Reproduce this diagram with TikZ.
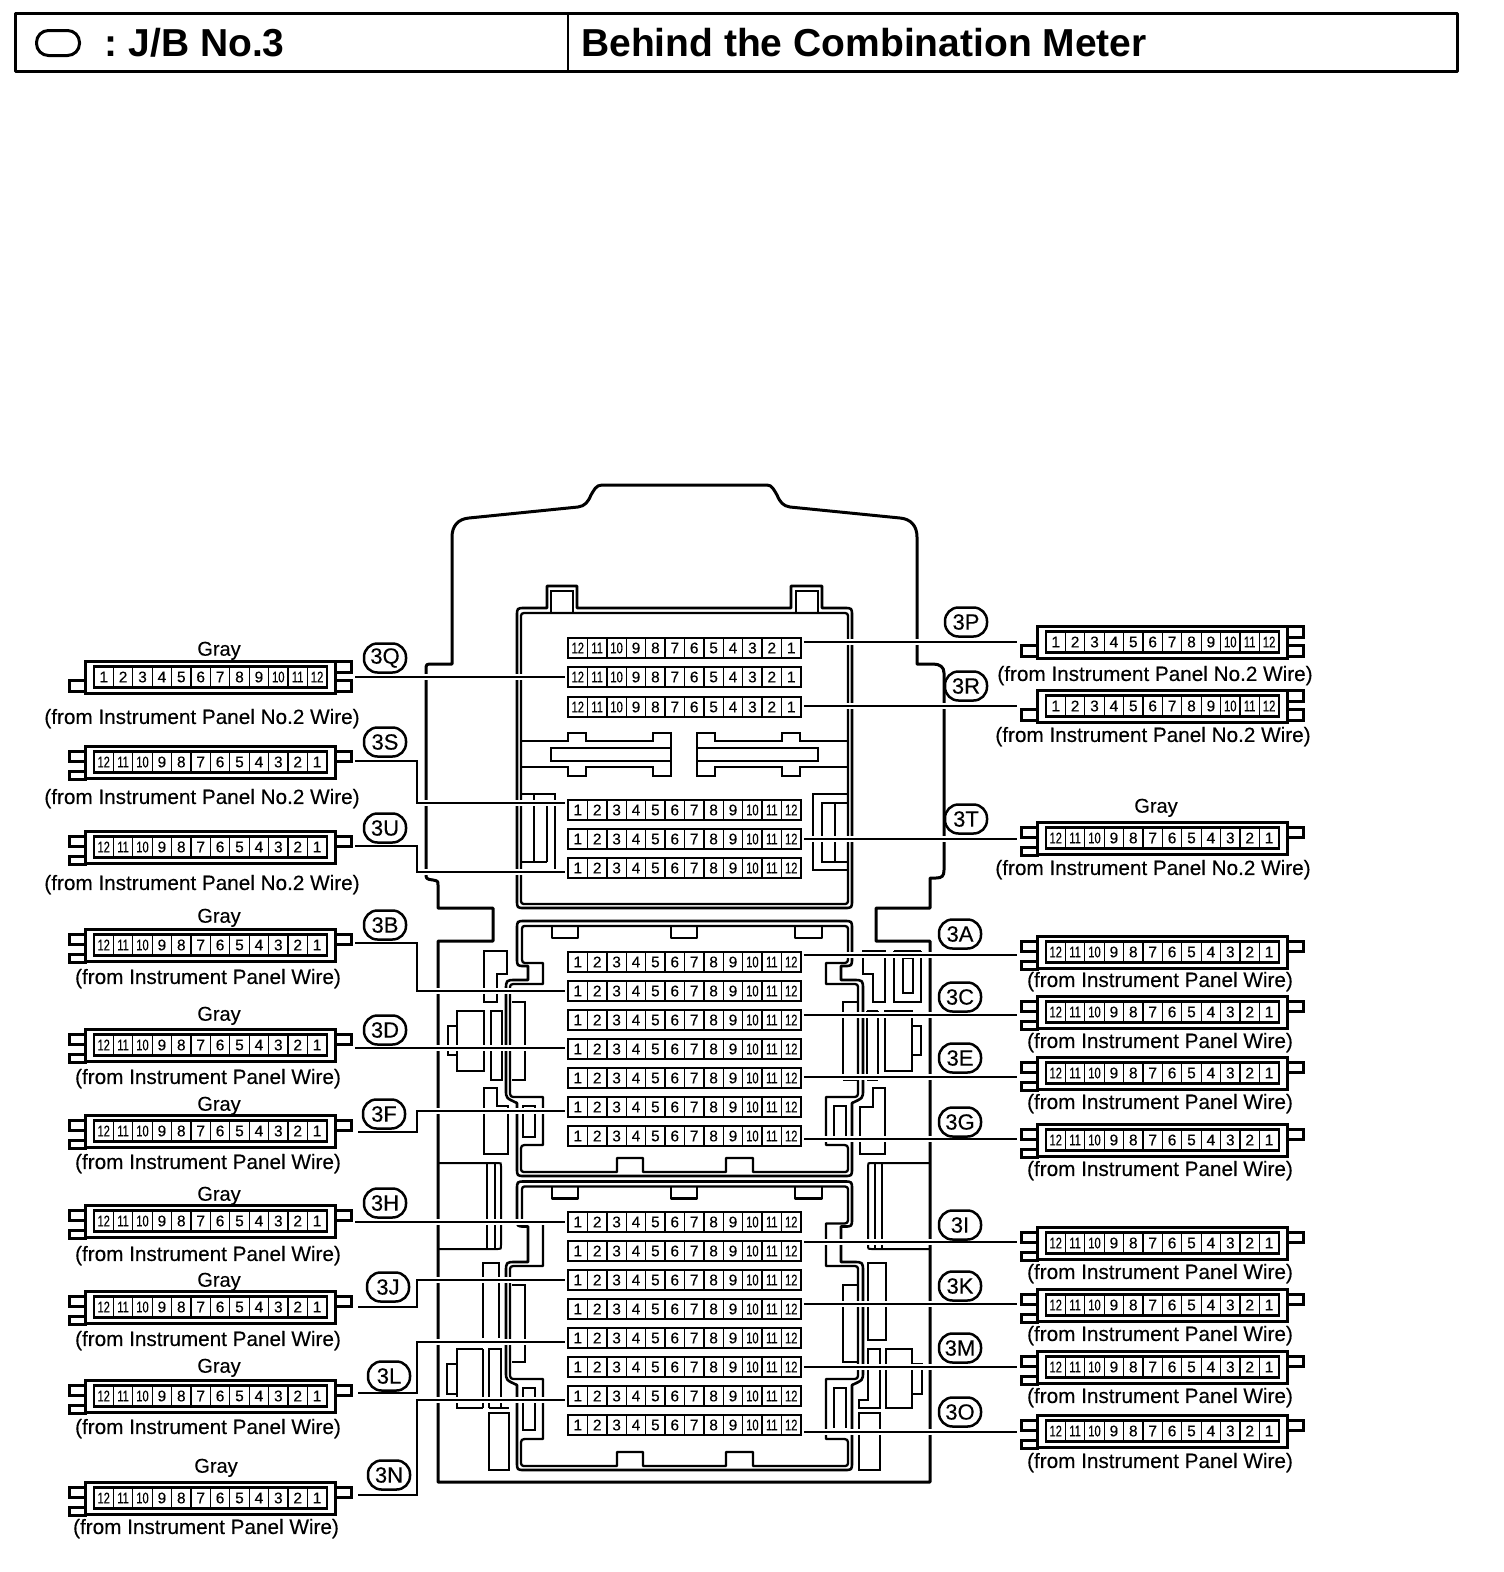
\documentclass[tikz,border=0pt]{standalone}
\usepackage{fontspec}
\usepackage{graphicx}
\setmainfont{Liberation Sans}
\newfontfamily\lblfont{Liberation Sans}[FakeBold=0.3]
\tikzset{
  x=1pt,y=-1pt,
  outl/.style={line width=3pt,line join=round},
  jbo/.style={line width=2.6pt,line join=round},
  jbi/.style={line width=2.3pt,line join=round},
  part/.style={line width=2pt},
  thinpart/.style={line width=1.2pt},
  wirethick/.style={line width=2.3pt,preaction={draw=white,line width=6.5pt}},
  wirethin/.style={line width=1.3pt,preaction={draw=white,line width=6pt}},
  connbox/.style={draw,line width=3pt,minimum width=250pt,minimum height=32pt,inner sep=0pt,outer xsep=20pt},
  cell/.style={draw,line width=1.3pt,minimum width=19.4pt,minimum height=20pt,inner sep=0pt,
    font=\lblfont\fontsize{15.5}{16}\selectfont},
  rowbox/.style={draw,line width=1.8pt,minimum width=232.8pt,minimum height=20pt,inner sep=0pt,outer xsep=3pt},
  tabbox/.style={line width=3pt},
  bubble/.style={draw,line width=2.5pt,rounded corners=13.5pt,minimum width=42pt,minimum height=29pt,inner sep=0pt,
    font=\lblfont\fontsize{22}{23}\selectfont},
  wiretext/.style={inner sep=0pt,yshift=-0.6pt,font=\lblfont\fontsize{20.7}{22}\selectfont},
  graytext/.style={inner sep=0pt,yshift=-0.8pt,font=\lblfont\fontsize{20}{22}\selectfont},
  headtext/.style={inner sep=0pt,anchor=west,font=\bfseries\fontsize{39}{40}\selectfont},
}
\newcommand\cellnum[1]{\raisebox{-1pt}{\ifnum#1>9 \scalebox{.72}[1]{#1}\else #1\fi}}
% name, left x of outer box, y centre, 1 = numbered 1..12 / 0 = numbered 12..1
\newcommand\conn[4]{%
  \ifnum#4=1
    \draw[tabbox] (#2,#3+3) rectangle (#2-16,#3+14);
    \draw[tabbox] (#2+250,#3-16) rectangle (#2+266,#3-5);
    \draw[tabbox] (#2+250,#3+3) rectangle (#2+266,#3+14);
  \else
    \draw[tabbox] (#2,#3-11) rectangle (#2-16,#3-1);
    \draw[tabbox] (#2,#3+9) rectangle (#2-16,#3+17);
    \draw[tabbox] (#2+250,#3-11) rectangle (#2+266,#3-1);
  \fi
  \node[connbox,fill=white] (#1) at (#2+125,#3) {};
  \draw[line width=1.9pt] (#2+9,#3-11) rectangle (#2+242,#3+11);
  \foreach \i in {1,...,12}{
    \pgfmathtruncatemacro\cn{#4==1 ? \i : 13-\i}
    \node[cell] (#1-\i) at (#2+9+\i*19.4-9.7,#3) {\cellnum{\cn}};
  }
}
% name, y centre, 1 / 0 numbering
\newcommand\fuserow[3]{%
  \node[rowbox] (#1) at (684.5,#2) {};
  \foreach \i in {1,...,12}{
    \pgfmathtruncatemacro\cn{#3==1 ? \i : 13-\i}
    \node[cell] (#1-\i) at (568.1+\i*19.4-9.7,#2) {\cellnum{\cn}};
  }
}
% straight wire: style, row, connector, y
\newcommand\wireRight[4]{\draw[#1] (#2.east |- 0,#4) -- (#3.west |- 0,#4);}
\newcommand\wireLeft[4]{\draw[#1] (#3.east |- 0,#4) -- (#2.west |- 0,#4);}
% bent wire: style, name, start x, start y, end y, row
\newcommand\wireBent[6]{%
  \coordinate (#2-s) at (#3,#4);
  \coordinate (#2-a) at (417,#4);
  \coordinate (#2-b) at (417,#5);
  \draw[#1] (#2-s) -- (#2-a) -- (#2-b) -- (#6.west |- #2-b);
}
\newcommand\jbshell[3]{%
  \def\ya{#1}\def\yb{#2}\def\yc{#3}%
  \draw[jbo] (525,921+\ya) -- (844,921+\ya) .. controls (852,921+\ya) .. (852,929+\ya)
    -- (852,958+\ya) .. controls (852,966+\ya) .. (844,966+\ya) -- (841,966+\ya) -- (841,980+\yb)
    -- (853,980+\yb) .. controls (863,980+\yb) .. (863,990+\yb) -- (863,1090+\yb)
    .. controls (863,1098+\yb) .. (852,1103+\yb) -- (852,1168+\yc) .. controls (852,1176+\yc) .. (844,1176+\yc)
    -- (525,1176+\yc) .. controls (517,1176+\yc) .. (517,1168+\yc) -- (517,1103+\yb)
    .. controls (506,1098+\yb) .. (506,1090+\yb) -- (506,990+\yb) .. controls (506,980+\yb) .. (516,980+\yb)
    -- (528,980+\yb) -- (528,966+\ya) -- (525,966+\ya) .. controls (517,966+\ya) .. (517,958+\ya)
    -- (517,929+\ya) .. controls (517,921+\ya) .. cycle;
  \draw[jbi] (527,926+\ya) -- (842,926+\ya) .. controls (848,926+\ya) .. (848,932+\ya)
    -- (848,956+\ya) .. controls (848,963+\ya) .. (841,963+\ya) -- (826,963+\ya) -- (826,984+\yb)
    -- (852,984+\yb) .. controls (858,984+\yb) .. (858,990+\yb) -- (858,1090+\yb)
    .. controls (858,1097+\yb) .. (851,1097+\yb) -- (826,1097+\yb) -- (826,1145+\yc)
    -- (841,1145+\yc) .. controls (848,1145+\yc) .. (848,1152+\yc) -- (848,1166+\yc)
    .. controls (848,1172+\yc) .. (842,1172+\yc) -- (753,1172+\yc) -- (753,1158+\yc) -- (726,1158+\yc)
    -- (726,1172+\yc) -- (643,1172+\yc) -- (643,1158+\yc) -- (617,1158+\yc) -- (617,1172+\yc)
    -- (527,1172+\yc) .. controls (521,1172+\yc) .. (521,1166+\yc) -- (521,1152+\yc)
    .. controls (521,1145+\yc) .. (528,1145+\yc) -- (543,1145+\yc) -- (543,1097+\yb)
    -- (517,1097+\yb) .. controls (510,1097+\yb) .. (510,1090+\yb) -- (510,990+\yb)
    .. controls (510,984+\yb) .. (517,984+\yb) -- (543,984+\yb) -- (543,963+\ya) -- (528,963+\ya)
    .. controls (522,963+\ya) .. (522,956+\ya) -- (522,932+\ya) .. controls (522,926+\ya) .. cycle;
  \draw[jbi] (552,926+\ya) -- (552,938+\ya) -- (578,938+\ya) -- (578,926+\ya);
  \draw[jbi] (671,926+\ya) -- (671,938+\ya) -- (697,938+\ya) -- (697,926+\ya);
  \draw[jbi] (795,926+\ya) -- (795,938+\ya) -- (822,938+\ya) -- (822,926+\ya);
}
\begin{document}
\begin{tikzpicture}
\useasboundingbox (0,0) rectangle (1504,1572);
% header
\draw[outl] (15,13) rectangle (1457,71);
\draw[line width=2.4pt] (568,13) -- (568,71);
\node[draw,line width=3pt,rounded corners=12pt,minimum width=43pt,minimum height=25pt,inner sep=0pt] (keyicon) at (58,43) {};
\node[headtext] (keytext) at (104,43) {:\hspace{-3pt} J/B No.3};
\node[headtext] (titletext) at (581,43) {Behind the Combination Meter};
% housing
\draw[outl] (602,485) -- (767,485) .. controls (772,485) and (774,490) .. (777,495) .. controls (780,502) and (783,506) .. (790,507)
  -- (900,518) .. controls (911,519) and (917,526) .. (917,537) -- (917,664) -- (933,664) .. controls (940,664) and (944,667) .. (944,673)
  -- (944,870) .. controls (944,876) and (942,878) .. (936,878) -- (930,878) -- (930,908) -- (876,908) -- (876,941) -- (930,941)
  -- (930,1482) -- (438,1482) -- (438,941) -- (493,941) -- (493,908) -- (438,908) -- (438,885)
  .. controls (438,881) .. (433,880) .. controls (426,879) .. (426,873) -- (426,670) .. controls (426,664) .. (433,664)
  -- (452,664) -- (452,537) .. controls (452,526) and (458,519) .. (469,518) -- (578,507) .. controls (585,506) and (588,502) .. (591,495)
  .. controls (594,490) and (596,485) .. cycle;
% upper block
\draw[jbo] (525,608) -- (547,608) -- (547,586) -- (577,586) -- (577,608) -- (791,608) -- (791,586) -- (822,586) -- (822,608)
  -- (844,608) .. controls (852,608) .. (852,616) -- (852,900) .. controls (852,908) .. (844,908) -- (525,908)
  .. controls (517,908) .. (517,900) -- (517,616) .. controls (517,608) .. cycle;
\draw[jbi] (527,613) -- (842,613) .. controls (848,613) .. (848,619) -- (848,898) .. controls (848,904) .. (842,904)
  -- (527,904) .. controls (521,904) .. (521,898) -- (521,619) .. controls (521,613) .. cycle;
\draw[part] (551,613) -- (551,591) -- (573,591) -- (573,613);
\draw[part] (796,613) -- (796,591) -- (818,591) -- (818,613);
\draw[part] (521,741) -- (568,741) -- (568,733) -- (586,733) -- (586,741) -- (653,741) -- (653,733) -- (671,733)
  -- (671,776) -- (653,776) -- (653,767) -- (586,767) -- (586,776) -- (568,776) -- (568,767) -- (521,767);
\draw[part] (551,748) rectangle (671,761);
\draw[part] (848,741) -- (800,741) -- (800,733) -- (782,733) -- (782,741) -- (715,741) -- (715,733) -- (697,733)
  -- (697,776) -- (715,776) -- (715,767) -- (782,767) -- (782,776) -- (800,776) -- (800,767) -- (848,767);
\draw[part] (697,748) -- (818,748) -- (818,761) -- (697,761);
\draw[part] (521,794) -- (555,794) -- (555,871);
\draw[part] (534,794) -- (534,862);
\draw[thinpart] (547,803) -- (547,862);
\draw[part] (521,862) -- (547,862);
\draw[part] (848,794) -- (813,794) -- (813,870) -- (848,870);
\draw[thinpart] (822,803) rectangle (848,862);
\draw[part] (835,803) -- (835,862);
% middle and lower block shells
\jbshell{0}{0}{0}
\jbshell{260.5}{282}{294}
% parts beside the middle block
\draw[part] (484,951) -- (507,951) -- (507,974) -- (497,974) -- (497,1002) -- (484,1002) -- cycle;
\draw[part] (457,1011) rectangle (484,1071);
\draw[part] (457,1026) -- (448,1026) -- (448,1055) -- (457,1055);
\draw[part] (491,1011) rectangle (502,1080);
\draw[part] (512,1002) -- (525,1002) -- (525,1080) -- (512,1080);
\draw[part] (484,1088) -- (497,1088) -- (497,1106) -- (508,1106) -- (508,1154) -- (484,1154) -- cycle;
\draw[part] (523,1106) rectangle (535,1137);
\draw[part] (834,1106) rectangle (846,1137);
\draw[part] (873,1088) -- (885,1088) -- (885,1154) -- (860,1154) -- (860,1107) -- (873,1107) -- cycle;
\draw[part] (863,951) -- (885,951) -- (885,1002) -- (873,1002) -- (873,974) -- (863,974) -- cycle;
\draw[thinpart] (894,951) -- (921,951);
\draw[part] (894,951) -- (894,1002) -- (921,1002) -- (921,951);
\draw[part] (903,958) rectangle (913,993);
\draw[part] (858,1002) -- (843,1002) -- (843,1075);
\draw[thinpart] (843,1080) -- (858,1080);
\draw[part] (867,1011) -- (867,1074);
\draw[part] (878,1011) -- (878,1074);
\draw[thinpart] (867,1011) -- (878,1011);
\draw[thinpart] (867,1080) -- (878,1080);
\draw[part] (885,1011) -- (912,1011) -- (912,1071) -- (885,1071) -- cycle;
\draw[part] (912,1026) -- (921,1026) -- (921,1055) -- (912,1055);
% panels between the blocks
\draw[part] (438,1163) -- (498,1163) .. controls (501,1163) .. (501,1166) -- (501,1245) .. controls (501,1249) .. (498,1249) -- (438,1249);
\draw[part] (487,1163) -- (487,1249);
\draw[part] (495,1163) -- (495,1249);
\draw[part] (930,1163) -- (872,1163) .. controls (868,1163) .. (868,1166) -- (868,1245) .. controls (868,1249) .. (872,1249) -- (930,1249);
\draw[part] (875,1163) -- (875,1249);
\draw[part] (882,1163) -- (882,1249);
% parts beside the lower block
\draw[thinpart] (483,1338) -- (483,1263) -- (499,1263) -- (499,1338);
\draw[part] (512,1285) -- (525,1285) -- (525,1362) -- (512,1362);
\draw[part] (483,1349) -- (457,1349) -- (457,1408) -- (483,1408);
\draw[thinpart] (483,1349) -- (483,1408);
\draw[part] (457,1364) -- (447,1364) -- (447,1394) -- (457,1394);
\draw[part] (489,1408) -- (489,1349) -- (501,1349) -- (501,1408);
\draw[part] (489,1408) -- (509,1408);
\draw[part] (489,1413) rectangle (509,1470);
\draw[part] (523,1388) rectangle (535,1430);
\draw[part] (834,1428) -- (834,1388) -- (846,1388) -- (846,1428);
\draw[part] (858,1285) -- (843,1285) -- (843,1362) -- (858,1362);
\draw[part] (868,1263) -- (886,1263) -- (886,1340) -- (868,1340) -- cycle;
\draw[part] (859,1408) -- (859,1400) -- (868,1400) -- (868,1349) -- (880,1349) -- (880,1408) -- cycle;
\draw[part] (886,1349) -- (912,1349) -- (912,1408) -- (886,1408) -- cycle;
\draw[part] (912,1364) -- (922,1364) -- (922,1394) -- (912,1394);
\draw[part] (859,1413) rectangle (880,1470);
% left connectors
\conn{3Q}{85}{677}{1}
\conn{3S}{85}{762}{0}
\conn{3U}{85}{847}{0}
\conn{3B}{85}{945}{0}
\conn{3D}{85}{1045}{0}
\conn{3F}{85}{1131}{0}
\conn{3H}{85}{1221}{0}
\conn{3J}{85}{1307}{0}
\conn{3L}{85}{1396}{0}
\conn{3N}{85}{1498}{0}
% right connectors
\conn{3P}{1037}{642}{1}
\conn{3R}{1037}{706}{1}
\conn{3T}{1037}{838}{0}
\conn{3A}{1037}{952}{0}
\conn{3C}{1037}{1012}{0}
\conn{3E}{1037}{1073}{0}
\conn{3G}{1037}{1140}{0}
\conn{3I}{1037}{1243}{0}
\conn{3K}{1037}{1305}{0}
\conn{3M}{1037}{1367}{0}
\conn{3O}{1037}{1431}{0}
% wires
\node[rowbox,draw=none] (A1) at (684.5,648) {};
\node[rowbox,draw=none] (A2) at (684.5,677) {};
\node[rowbox,draw=none] (A3) at (684.5,707) {};
\node[rowbox,draw=none] (A4) at (684.5,810) {};
\node[rowbox,draw=none] (A5) at (684.5,839) {};
\node[rowbox,draw=none] (A6) at (684.5,868) {};
\node[rowbox,draw=none] (B1) at (684.5,962) {};
\node[rowbox,draw=none] (B2) at (684.5,991) {};
\node[rowbox,draw=none] (B3) at (684.5,1020) {};
\node[rowbox,draw=none] (B4) at (684.5,1049) {};
\node[rowbox,draw=none] (B5) at (684.5,1078) {};
\node[rowbox,draw=none] (B6) at (684.5,1107) {};
\node[rowbox,draw=none] (B7) at (684.5,1136) {};
\node[rowbox,draw=none] (C1) at (684.5,1222) {};
\node[rowbox,draw=none] (C2) at (684.5,1251) {};
\node[rowbox,draw=none] (C3) at (684.5,1280) {};
\node[rowbox,draw=none] (C4) at (684.5,1309) {};
\node[rowbox,draw=none] (C5) at (684.5,1338) {};
\node[rowbox,draw=none] (C6) at (684.5,1367) {};
\node[rowbox,draw=none] (C7) at (684.5,1396) {};
\node[rowbox,draw=none] (C8) at (684.5,1425) {};
\wireLeft{wirethick}{A2}{3Q}{677}
\wireRight{wirethin}{A1}{3P}{642}
\wireRight{wirethin}{A3}{3R}{706}
\wireRight{wirethick}{A5}{3T}{839}
\wireBent{wirethin}{w3S}{355}{761}{803}{A4}
\wireBent{wirethin}{w3U}{355}{846}{872}{A6}
\wireBent{wirethick}{w3B}{355}{943}{991}{B2}
\wireLeft{wirethin}{B4}{3D}{1048}
\wireBent{wirethick}{w3F}{358}{1132}{1111}{B6}
\wireLeft{wirethick}{C1}{3H}{1222}
\wireBent{wirethick}{w3J}{358}{1307}{1280}{C3}
\wireBent{wirethick}{w3L}{358}{1393}{1342}{C5}
\wireBent{wirethin}{w3N}{358}{1495}{1400}{C7}
\wireRight{wirethick}{B1}{3A}{955}
\wireRight{wirethick}{B3}{3C}{1015}
\wireRight{wirethick}{B5}{3E}{1077}
\wireRight{wirethick}{B7}{3G}{1139}
\wireRight{wirethick}{C2}{3I}{1242}
\wireRight{wirethin}{C4}{3K}{1304}
\wireRight{wirethick}{C6}{3M}{1367}
\wireRight{wirethick}{C8}{3O}{1432}
% fuse rows
\fuserow{A1}{648}{0}
\fuserow{A2}{677}{0}
\fuserow{A3}{707}{0}
\fuserow{A4}{810}{1}
\fuserow{A5}{839}{1}
\fuserow{A6}{868}{1}
\fuserow{B1}{962}{1}
\fuserow{B2}{991}{1}
\fuserow{B3}{1020}{1}
\fuserow{B4}{1049}{1}
\fuserow{B5}{1078}{1}
\fuserow{B6}{1107}{1}
\fuserow{B7}{1136}{1}
\fuserow{C1}{1222}{1}
\fuserow{C2}{1251}{1}
\fuserow{C3}{1280}{1}
\fuserow{C4}{1309}{1}
\fuserow{C5}{1338}{1}
\fuserow{C6}{1367}{1}
\fuserow{C7}{1396}{1}
\fuserow{C8}{1425}{1}
% bubbles
\node[bubble] (b3Q) at (385,658) {3Q};
\node[bubble] (b3S) at (385,742) {3S};
\node[bubble] (b3U) at (385,828) {3U};
\node[bubble] (b3B) at (385,925) {3B};
\node[bubble] (b3D) at (385,1030) {3D};
\node[bubble] (b3F) at (384,1114) {3F};
\node[bubble] (b3H) at (385,1203) {3H};
\node[bubble] (b3J) at (388,1287) {3J};
\node[bubble] (b3L) at (389,1376) {3L};
\node[bubble] (b3N) at (389,1475) {3N};
\node[bubble] (b3P) at (966,622) {3P};
\node[bubble] (b3R) at (966,686) {3R};
\node[bubble] (b3T) at (966,819) {3T};
\node[bubble] (b3A) at (960,934) {3A};
\node[bubble] (b3C) at (960,997) {3C};
\node[bubble] (b3E) at (960,1058) {3E};
\node[bubble] (b3G) at (960,1122) {3G};
\node[bubble] (b3I) at (960,1225) {3I};
\node[bubble] (b3K) at (960,1286) {3K};
\node[bubble] (b3M) at (960,1348) {3M};
\node[bubble] (b3O) at (960,1412) {3O};
% texts
\node[graytext] (g3Q) at (219,650) {Gray};
\node[graytext] (g3B) at (219,917) {Gray};
\node[graytext] (g3D) at (219,1015) {Gray};
\node[graytext] (g3F) at (219,1105) {Gray};
\node[graytext] (g3H) at (219,1195) {Gray};
\node[graytext] (g3J) at (219,1281) {Gray};
\node[graytext] (g3L) at (219,1367) {Gray};
\node[graytext] (g3N) at (216,1467) {Gray};
\node[graytext] (g3T) at (1156,807) {Gray};
\node[wiretext] (t3Q) at (202,718) {(from Instrument Panel No.2 Wire)};
\node[wiretext] (t3S) at (202,798) {(from Instrument Panel No.2 Wire)};
\node[wiretext] (t3U) at (202,884) {(from Instrument Panel No.2 Wire)};
\node[wiretext] (t3B) at (208,978) {(from Instrument Panel Wire)};
\node[wiretext] (t3D) at (208,1078) {(from Instrument Panel Wire)};
\node[wiretext] (t3F) at (208,1163) {(from Instrument Panel Wire)};
\node[wiretext] (t3H) at (208,1255) {(from Instrument Panel Wire)};
\node[wiretext] (t3J) at (208,1340) {(from Instrument Panel Wire)};
\node[wiretext] (t3L) at (208,1428) {(from Instrument Panel Wire)};
\node[wiretext] (t3N) at (206,1528) {(from Instrument Panel Wire)};
\node[wiretext] (t3P) at (1155,675) {(from Instrument Panel No.2 Wire)};
\node[wiretext] (t3R) at (1153,736) {(from Instrument Panel No.2 Wire)};
\node[wiretext] (t3T) at (1153,869) {(from Instrument Panel No.2 Wire)};
\node[wiretext] (t3A) at (1160,981) {(from Instrument Panel Wire)};
\node[wiretext] (t3C) at (1160,1042) {(from Instrument Panel Wire)};
\node[wiretext] (t3E) at (1160,1103) {(from Instrument Panel Wire)};
\node[wiretext] (t3G) at (1160,1170) {(from Instrument Panel Wire)};
\node[wiretext] (t3I) at (1160,1273) {(from Instrument Panel Wire)};
\node[wiretext] (t3K) at (1160,1335) {(from Instrument Panel Wire)};
\node[wiretext] (t3M) at (1160,1397) {(from Instrument Panel Wire)};
\node[wiretext] (t3O) at (1160,1462) {(from Instrument Panel Wire)};
\end{tikzpicture}
\end{document}
